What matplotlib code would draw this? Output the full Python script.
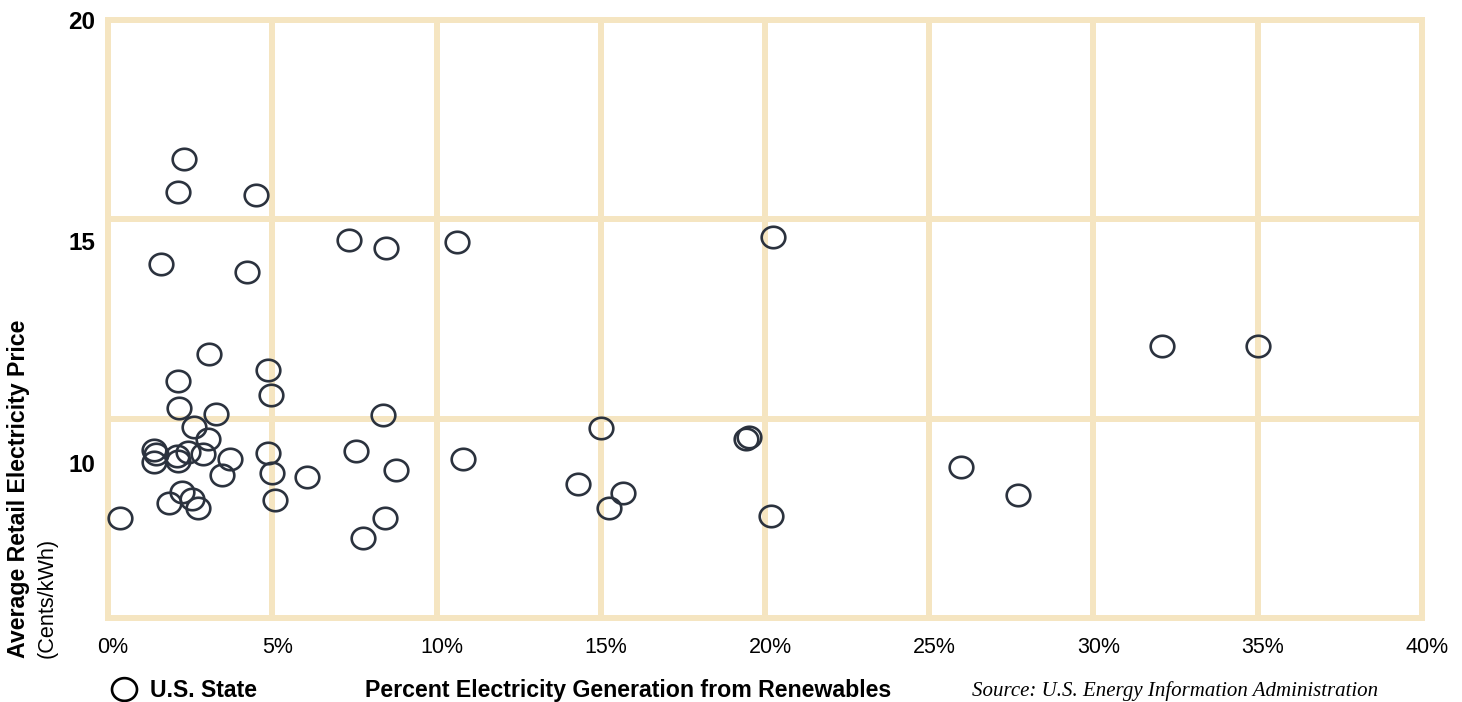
import numpy as np
import matplotlib
matplotlib.use('Agg')
import matplotlib.pyplot as plt
import matplotlib.transforms as mtransforms
from matplotlib.path import Path
from matplotlib.lines import Line2D

# Percent of generation from renewables vs average retail price, one point per state
renewables = [2.31, 2.13, 4.50, 1.61, 4.23,
              3.07, 2.13, 2.15, 3.28, 2.61, 3.04,
              1.41, 1.45, 1.41, 2.09, 2.14, 2.44, 2.90, 3.71, 3.48,
              2.24, 1.87, 2.55, 2.75, 0.37,
              4.86, 4.96, 4.86, 5.00, 5.08, 6.06,
              7.35, 8.46, 10.62, 20.25,
              8.36, 7.55, 8.76, 8.44, 7.76, 10.80,
              15.00, 14.30, 15.67, 15.26,
              19.41, 19.52, 20.18, 25.98, 27.70, 32.09, 35.02]
price = [16.86, 16.11, 16.04, 14.50, 14.30,
         12.47, 11.86, 11.24, 11.11, 10.81, 10.55,
         10.29, 10.21, 10.03, 10.16, 10.05, 10.24, 10.20, 10.08, 9.72,
         9.34, 9.09, 9.18, 8.99, 8.75,
         12.10, 11.54, 10.23, 9.78, 9.16, 9.68,
         15.04, 14.86, 14.99, 15.09,
         11.09, 10.27, 9.85, 8.75, 8.30, 10.10,
         10.79, 9.52, 9.33, 8.99,
         10.54, 10.59, 8.80, 9.91, 9.27, 12.65, 12.63]

x_ticks = [0, 5, 10, 15, 20, 25, 30, 35, 40]
x_labels = ['0%', '5%', '10%', '15%', '20%', '25%', '30%', '35%', '40%']
y_ticks = [10, 15, 20]
y_grid = [6.5, 11, 15.5, 20]

grid_color = '#f5e5c1'
dot_color = '#2b323e'

# slightly wide ellipse for the markers
t = np.linspace(0, 2 * np.pi, 73)
ellipse = Path(np.column_stack([1.1 * np.cos(t), np.sin(t)]), closed=True)

fig = plt.figure(figsize=(14.62, 7.02), dpi=100)
ax = fig.add_axes([0.0739, 0.1197, 0.8987, 0.8518])
ax.set_xlim(0, 40)
ax.set_ylim(6.5, 20)

for xv in x_ticks:
    ax.axvline(xv, color=grid_color, lw=4.3, clip_on=False, zorder=1)
for yv in y_grid:
    ax.axhline(yv, color=grid_color, lw=4.3, clip_on=False, zorder=1)

ax.plot(renewables, price, linestyle='none', marker=ellipse, markersize=17,
        markerfacecolor='none', markeredgecolor=dot_color, markeredgewidth=1.9,
        clip_on=False, zorder=3)

for s in ax.spines.values():
    s.set_visible(False)

ax.set_xticks(x_ticks)
ax.set_xticklabels(x_labels, fontsize=15.5, family='Liberation Sans')
ax.set_yticks(y_ticks)
ax.set_yticklabels([str(v) for v in y_ticks], fontsize=17.5, fontweight='bold',
                   family='Liberation Sans')
ax.tick_params(axis='x', length=0, pad=14)
ax.tick_params(axis='y', length=0, pad=9)

# percent labels sit a little right of their grid lines
shift = mtransforms.ScaledTranslation(0.05, 0, fig.dpi_scale_trans)
for lab in ax.get_xticklabels():
    lab.set_transform(lab.get_transform() + shift)

# y axis title in two lines, bottom aligned
fig.text(0.0127, 0.063, 'Average Retail Electricity Price', rotation=90,
         ha='center', va='bottom', fontsize=16.7, fontweight='bold',
         family='Liberation Sans')
fig.text(0.0322, 0.063, '(Cents/kWh)', rotation=90, ha='center', va='bottom',
         fontsize=15.6, family='Liberation Sans')

# bottom row: legend, x title, source
fig.add_artist(Line2D([0.0848], [0.019], transform=fig.transFigure,
                      marker=ellipse, markersize=18, markerfacecolor='none',
                      markeredgecolor='black', markeredgewidth=1.9,
                      linestyle='none'))
fig.text(0.1026, 0.017, 'U.S. State', ha='left', va='center', fontsize=16.6,
         fontweight='bold', family='Liberation Sans')
fig.text(0.2497, 0.017, 'Percent Electricity Generation from Renewables',
         ha='left', va='center', fontsize=16.7, fontweight='bold',
         family='Liberation Sans')
fig.text(0.665, 0.015, 'Source: U.S. Energy Information Administration',
         ha='left', va='center', fontsize=15, style='italic',
         family='Liberation Serif')

fig.savefig('out.png', dpi=100)
